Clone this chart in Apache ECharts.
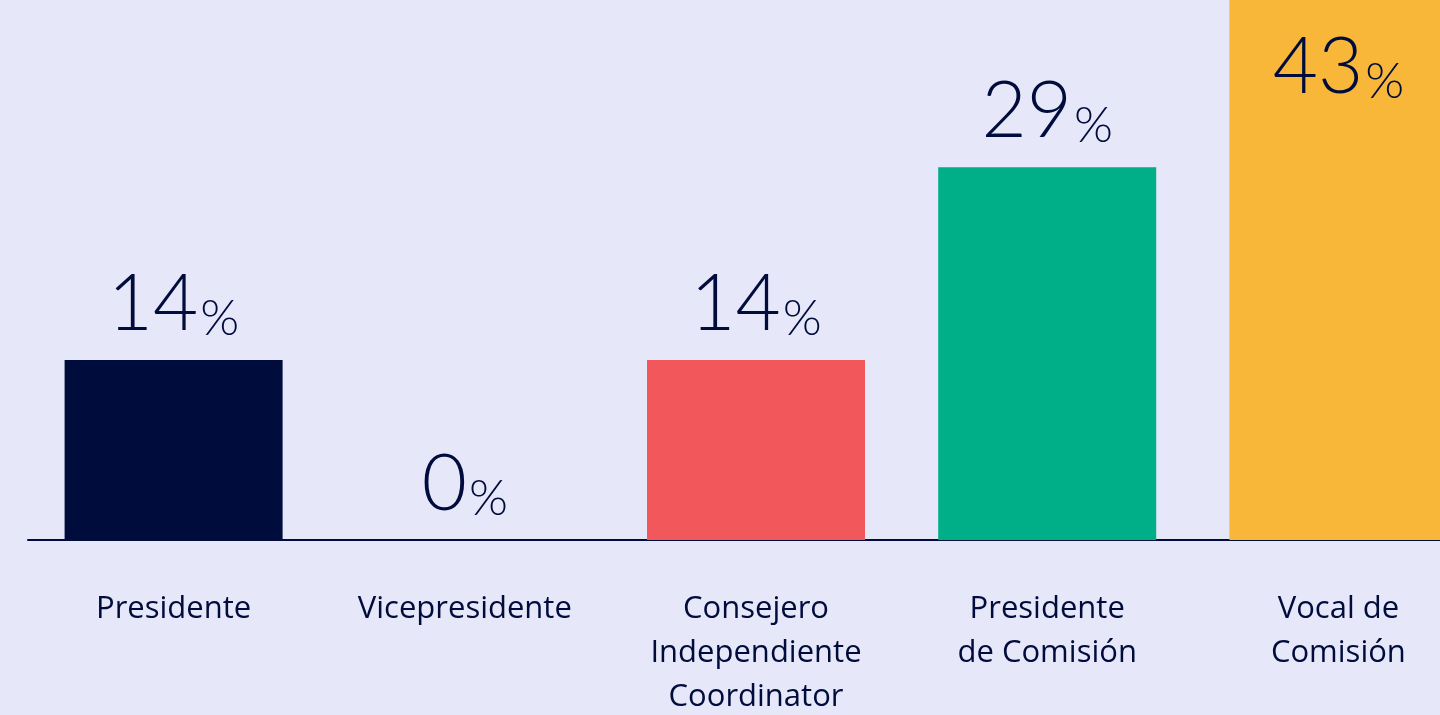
<!DOCTYPE html>
<html>
<head>
<meta charset="utf-8">
<script src="https://cdn.jsdelivr.net/npm/echarts@6/dist/echarts.min.js"></script>
<style>
html,body{margin:0;padding:0;background:#E6E7F8;}
#chart{width:1440px;height:715px;}
</style>
</head>
<body>
<div id="chart"></div>
<script>
const categories = ['Presidente', 'Vicepresidente', 'Consejero\nIndependiente\nCoordinator', 'Presidente\nde Comisión', 'Vocal de\nComisión'];
const values = [14, 0, 14, 29, 43];
const barColors = ['#000C3B', '#000C3B', '#F2575C', '#00AE88', '#F8B739'];

const NAVY = '#000C3B';
const chart = echarts.init(document.getElementById('chart'), null, {renderer: 'canvas'});

const data = values.map((v, i) => {
  const item = {value: v, itemStyle: {color: barColors[i]}};
  if (i === values.length - 1) {
    item.label = {position: 'insideTop', distance: 27};
  }
  return item;
});

chart.setOption({
  backgroundColor: '#E6E7F8',
  animation: false,
  grid: {left: 28, width: 1456, top: 0, bottom: 175, containLabel: false, outerBoundsMode: 'none'},
  xAxis: {
    type: 'category',
    data: categories,
    axisLine: {show: true, lineStyle: {color: NAVY, width: 2}},
    axisTick: {show: false},
    axisLabel: {
      interval: 0,
      margin: 47,
      color: NAVY,
      fontFamily: 'Open Sans',
      fontWeight: 400,
      fontSize: 31,
      lineHeight: 44,
      align: 'center',
      verticalAlign: 'top'
    }
  },
  yAxis: {
    type: 'value',
    min: 0,
    max: 42,
    show: false,
    splitLine: {show: false}
  },
  series: [{
    type: 'bar',
    data: data,
    barWidth: 218,
    clip: true,
    label: {
      show: true,
      position: 'top',
      distance: 16,
      formatter: p => '{n|' + p.value + '}{p|%}',
      rich: {
        n: {fontFamily: 'Lato', fontWeight: 300, fontSize: 78, color: NAVY, verticalAlign: 'bottom', lineHeight: 80},
        p: {fontFamily: 'Lato', fontWeight: 300, fontSize: 50, color: NAVY, verticalAlign: 'bottom', lineHeight: 80, padding: [0, 0, 0, 2]}
      }
    }
  }]
});
</script>
</body>
</html>
